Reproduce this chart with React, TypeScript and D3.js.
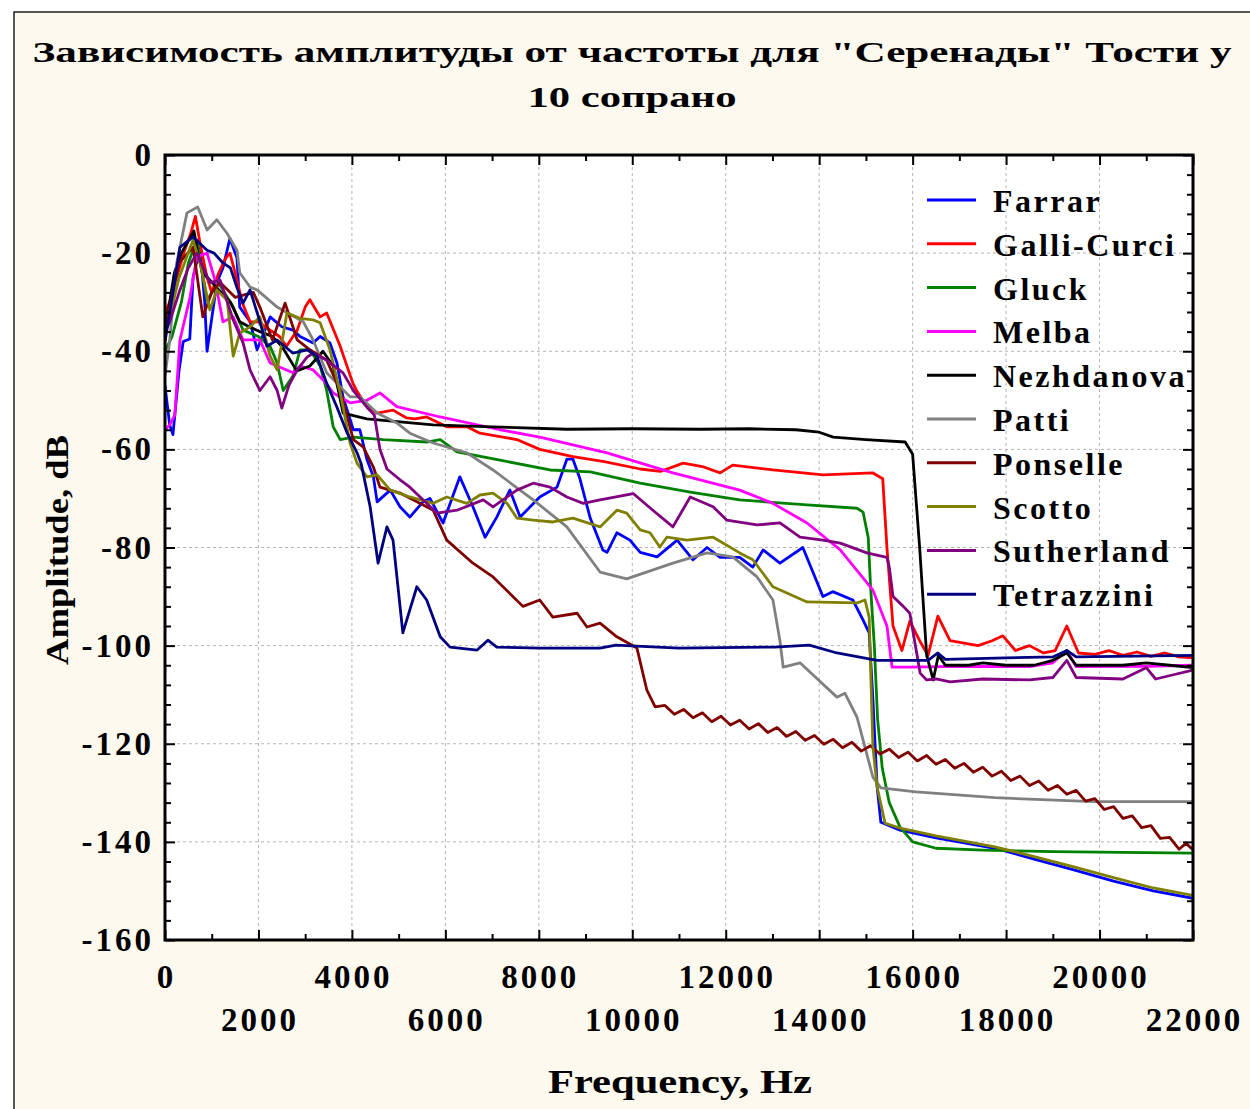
import React, { useRef, useEffect } from 'react';
import * as d3 from 'd3';

type Pt = [number, number];

const W = 1250;
const H = 1109;
const plot = { left: 165, top: 155, right: 1193, bottom: 940 };

const singers = ['Farrar', 'Galli-Curci', 'Gluck', 'Melba', 'Nezhdanova', 'Patti', 'Ponselle', 'Scotto', 'Sutherland', 'Tetrazzini'];
const colors = ['#0000ff', '#ff0000', '#008000', '#ff00ff', '#000000', '#808080', '#800000', '#808000', '#800080', '#000080'];

const xTicksTop = [0, 4000, 8000, 12000, 16000, 20000];
const xTicksBottom = [2000, 6000, 10000, 14000, 18000, 22000];
const yTicks = [0, -20, -40, -60, -80, -100, -120, -140, -160];

const farrar: Pt[] = [[0,-47],[100,-55],[170,-57],[300,-44],[390,-38],[530,-37.5],[600,-25],[750,-19],[850,-30],[900,-40],[960,-36],[1110,-26],[1240,-23],[1390,-17],[1540,-21],[1600,-31],[1820,-34],[1970,-39.7],[2250,-33],[2500,-35],[2740,-35.7],[2890,-37],[3170,-38.3],[3320,-37],[3530,-38.3],[3680,-42.4],[3810,-49.3],[4030,-56],[4170,-56],[4320,-62],[4460,-65.6],[4540,-70.7],[4820,-68.3],[5030,-71.7],[5240,-73.8],[5520,-70.7],[5670,-70],[5950,-75],[6310,-65.6],[6590,-71.7],[6850,-77.9],[7100,-73.8],[7380,-68.3],[7600,-73.8],[8020,-69.7],[8390,-67.7],[8600,-62],[8730,-62],[8880,-66],[9100,-74],[9370,-80.5],[9460,-81],[9670,-77],[9950,-78.5],[10170,-81],[10530,-81.9],[10960,-78.5],[11300,-82.5],[11600,-80],[11880,-82],[12300,-82],[12580,-84],[12800,-80.5],[13160,-83.2],[13650,-80],[14080,-90],[14290,-89],[14720,-90.7],[14940,-94.8],[15070,-97.4],[15150,-111],[15240,-128.8],[15320,-136],[15730,-137.6],[16500,-139.2],[17760,-141.3],[18600,-143.5],[19450,-145.7],[20300,-148],[21150,-150],[22000,-151.5]];

const galliCurci: Pt[] = [[0,-32],[100,-30],[250,-25],[400,-20],[550,-16],[650,-12.5],[750,-18],[900,-25],[1000,-28],[1150,-24],[1300,-21],[1390,-20],[1500,-24],[1650,-30],[1820,-34],[2000,-34],[2250,-35.7],[2450,-37],[2600,-39],[2830,-35.7],[3000,-31],[3100,-29.5],[3320,-33],[3460,-32.2],[3750,-39],[4020,-46.5],[4100,-48],[4300,-51],[4540,-52.6],[4880,-52],[5170,-53.6],[5350,-53.8],[5600,-53.4],[6030,-55.4],[6460,-55.4],[6740,-56.7],[7530,-58],[8020,-60],[8730,-61.5],[9400,-62.5],[10170,-64],[10600,-64.5],[11090,-62.8],[11500,-63.5],[11880,-64.8],[12150,-63.2],[13010,-64.2],[14080,-65.2],[15150,-64.8],[15360,-66],[15450,-80],[15580,-96],[15770,-101],[15940,-95],[16150,-99],[16330,-102],[16540,-94],[16800,-99],[17100,-99.5],[17400,-100],[17700,-99],[17930,-98],[18200,-101],[18500,-100],[18800,-101.5],[19050,-101],[19300,-96],[19550,-101.5],[19900,-101.8],[20200,-101],[20500,-102],[20800,-101.3],[21100,-102.2],[21400,-101.5],[21700,-102.3],[22000,-102.5]];

const gluck: Pt[] = [[0,-40],[150,-37],[350,-30],[500,-22],[680,-17.3],[900,-29.6],[1140,-26],[1460,-31],[1670,-35.7],[2000,-37],[2250,-39],[2400,-42.4],[2530,-48],[2740,-45],[2890,-39.7],[3100,-39.7],[3320,-43],[3460,-48],[3600,-55.4],[3750,-58],[4030,-57.5],[4670,-58],[5600,-58.5],[5890,-58],[6250,-60.5],[7170,-62.2],[8240,-64.2],[9100,-64.6],[10170,-66.9],[11240,-68.7],[12300,-70.3],[13740,-71.3],[14810,-72],[14940,-72.8],[15050,-78],[15100,-88],[15180,-100],[15250,-115],[15350,-125],[15500,-132],[15730,-137],[16000,-140],[16500,-141.3],[17500,-141.7],[19000,-142],[22000,-142.3]];

const melba: Pt[] = [[0,-56],[100,-55],[210,-53],[320,-37.7],[535,-29],[680,-20.8],[900,-20],[1070,-25.5],[1240,-34],[1460,-33],[1670,-37.7],[2030,-37.7],[2250,-42.4],[2740,-44.4],[2890,-43],[3170,-43.8],[3400,-46],[3600,-48.5],[3960,-50.5],[4320,-50],[4600,-48.5],[4960,-51.3],[5890,-53.4],[7170,-56],[8020,-57.5],[9460,-60.7],[10870,-64.8],[12300,-68.3],[13010,-71],[13740,-75],[14450,-80.5],[15150,-88.7],[15450,-96],[15560,-104.4],[16000,-104.4],[17000,-104.2],[18500,-104.3],[19000,-103.5],[19300,-101],[19500,-104.3],[21000,-104.2],[22000,-104]];

const nezhdanova: Pt[] = [[0,-36],[100,-30],[200,-24],[350,-20],[500,-17.5],[620,-15.5],[700,-20],[800,-24],[960,-25.5],[1200,-28],[1400,-30],[1600,-34],[1800,-35],[2030,-36],[2300,-37],[2500,-39],[2820,-44],[3100,-43],[3380,-40],[3600,-43],[3810,-52.6],[4320,-53.8],[5740,-55],[7000,-55.4],[8600,-55.9],[10000,-55.8],[11450,-55.9],[12500,-55.8],[13500,-56],[14000,-56.5],[14300,-57.5],[15000,-58],[15840,-58.5],[16000,-61],[16150,-80],[16300,-102],[16440,-107],[16550,-102],[16700,-104],[17200,-104],[17500,-103.5],[18000,-104],[18600,-104],[19000,-103],[19300,-101.5],[19500,-104],[20500,-104],[21000,-103.5],[21500,-104],[22000,-104.5]];

const patti: Pt[] = [[0,-45],[100,-38],[250,-22],[470,-11.8],[700,-10.6],[900,-15.3],[1110,-13.2],[1330,-16],[1540,-19.4],[1600,-24],[1820,-26.9],[1970,-27.5],[2400,-31],[2960,-34],[3170,-37.7],[3460,-44.4],[3960,-49.3],[4170,-49.3],[4540,-52.6],[4960,-54.6],[5240,-56.7],[5740,-58.7],[6460,-60.7],[7020,-64.2],[7880,-70.3],[8600,-75.8],[9310,-85],[9880,-86.4],[10870,-83.2],[11600,-81.1],[12150,-81.9],[12670,-86],[13010,-90.7],[13160,-99],[13230,-104.4],[13590,-103.5],[13870,-106],[14380,-110.5],[14550,-109.7],[14810,-114.6],[14980,-120.7],[15150,-126.8],[15320,-129],[16070,-129.8],[17760,-131],[19880,-131.8],[22000,-131.8]];

const ponselle: Pt[] = [[0,-34],[100,-31],[300,-22],[600,-18.8],[810,-33],[1000,-28],[1180,-26],[1500,-29],[1890,-28],[2030,-31],[2300,-37.7],[2570,-30.2],[2830,-37.7],[3100,-39.7],[3460,-41.8],[3750,-48],[4030,-58],[4240,-59.5],[4460,-63.6],[4600,-67.7],[5030,-68.9],[5740,-72.4],[6030,-78.5],[6590,-83.2],[7020,-86],[7660,-92],[8020,-90.7],[8300,-94.2],[8820,-93.4],[9030,-96.2],[9310,-95.4],[9670,-98.2],[10100,-100.5],[10310,-109],[10490,-112.5],[10700,-112.2],[10900,-114],[11100,-113],[11300,-114.7],[11500,-113.7],[11700,-115.5],[11900,-114.4],[12100,-116.2],[12300,-115.2],[12500,-117],[12700,-115.9],[12900,-117.7],[13100,-116.7],[13300,-118.5],[13500,-117.5],[13700,-119.3],[13900,-118.3],[14100,-120.1],[14300,-119.1],[14500,-120.8],[14700,-119.7],[14900,-121.5],[15100,-120.4],[15300,-122.1],[15500,-121.1],[15700,-122.8],[15900,-121.7],[16100,-123.5],[16300,-122.4],[16500,-124.2],[16700,-123.2],[16900,-125],[17100,-124],[17300,-125.8],[17500,-124.8],[17700,-126.6],[17900,-125.6],[18100,-127.5],[18300,-126.6],[18500,-128.5],[18700,-127.6],[18900,-129.5],[19100,-128.5],[19300,-130.3],[19500,-129.5],[19700,-131.7],[19900,-131.2],[20100,-133.4],[20300,-132.8],[20500,-135.2],[20700,-134.7],[20900,-137.1],[21100,-136.7],[21300,-139.3],[21500,-139.1],[21700,-141.5],[21850,-140.3],[22000,-141.6]];

const scotto: Pt[] = [[0,-36],[100,-33],[300,-25],[600,-17.3],[750,-22],[960,-31.6],[1110,-27.5],[1330,-29.6],[1460,-41],[1600,-36.3],[1820,-35],[2030,-33],[2250,-41],[2400,-43.8],[2610,-32.2],[2890,-33.3],[3170,-33.6],[3320,-34.2],[3530,-39.7],[3750,-48.5],[3960,-58.7],[4110,-62.8],[4320,-65.6],[4540,-65.2],[4820,-68.3],[5240,-69.7],[5740,-71],[6030,-69.7],[6460,-71],[6740,-69.3],[7020,-68.9],[7320,-71],[7530,-74],[7880,-74.4],[8300,-74.8],[8730,-74],[9310,-75.8],[9670,-72.4],[9880,-73],[10170,-76.4],[10380,-77],[10590,-79.9],[10740,-77.9],[11170,-78.5],[11730,-77.9],[12300,-81.1],[12580,-82.5],[13010,-88],[13740,-91.1],[14810,-91.3],[14980,-90.7],[15070,-94.2],[15110,-107.6],[15150,-120.7],[15240,-128.8],[15410,-136.2],[15730,-137.2],[16500,-138.8],[17760,-141],[18600,-143],[19450,-145.1],[20300,-147.3],[21150,-149.4],[22000,-150.9]];

const sutherland: Pt[] = [[0,-36],[100,-34],[320,-27.5],[500,-23],[680,-20],[960,-26],[1180,-25.5],[1460,-33.6],[1670,-38.3],[1820,-43.8],[2030,-48],[2250,-45.2],[2400,-48],[2500,-51.6],[2650,-47],[2830,-43.8],[3040,-41.2],[3170,-40.4],[3460,-41.8],[3810,-44.4],[4030,-48],[4320,-51.4],[4480,-53],[4600,-60],[4750,-64],[5030,-66.2],[5240,-67.7],[5600,-71],[5820,-73],[6250,-72.4],[6810,-70.3],[7020,-71.7],[7530,-68.3],[7880,-66.9],[8240,-67.7],[8600,-69.7],[8950,-71],[9310,-70.3],[10020,-69],[10440,-72.4],[10870,-75.8],[11240,-69.7],[11730,-71.7],[12020,-74.4],[12670,-75.4],[13160,-75],[13590,-77.9],[14080,-78.5],[14450,-79.1],[15020,-81.1],[15450,-82],[15500,-84],[15580,-90],[15800,-92],[15940,-93.4],[16160,-105.6],[16300,-107],[16500,-106.8],[16800,-107.4],[17500,-106.8],[18500,-107],[19000,-106.5],[19300,-103],[19500,-106.5],[20500,-106.8],[21000,-104.5],[21200,-106.8],[22000,-105]];

const tetrazzini: Pt[] = [[0,-38],[100,-32.2],[320,-18.8],[600,-16.7],[900,-19.4],[1050,-20],[1240,-22],[1400,-23],[1540,-27],[1670,-30.2],[1820,-27.5],[2000,-33],[2180,-39],[2400,-37.7],[2740,-40.4],[3040,-39.7],[3250,-41],[3460,-46.5],[3680,-51.4],[3900,-56.7],[4110,-60.7],[4200,-63],[4390,-71.7],[4560,-83.2],[4750,-75.8],[4880,-78.5],[5090,-97.4],[5390,-88],[5600,-90.7],[5890,-98.2],[6100,-100.3],[6680,-100.9],[6910,-98.9],[7100,-100.3],[8020,-100.5],[9310,-100.5],[9650,-99.9],[11000,-100.5],[13040,-100.3],[13790,-99.9],[14380,-101.5],[15240,-103],[16330,-103],[16540,-101.5],[16700,-102.8],[18000,-102.5],[19000,-102.3],[19300,-101],[19500,-102.3],[22000,-102]];

const seriesData: Pt[][] = [farrar, galliCurci, gluck, melba, nezhdanova, patti, ponselle, scotto, sutherland, tetrazzini];

const FONT = "'Liberation Serif', 'Times New Roman', serif";

const App = () => {
  const ref = useRef<SVGSVGElement>(null);

  useEffect(() => {
    const svg = d3.select(ref.current);
    svg.selectAll('*').remove();

    const x = d3.scaleLinear().domain([0, 22000]).range([plot.left, plot.right]);
    const y = d3.scaleLinear().domain([-160, 0]).range([plot.bottom, plot.top]);

    // outer frame
    svg.append('rect')
      .attr('x', 14).attr('y', 12).attr('width', W).attr('height', H)
      .attr('fill', '#fdf9ee').attr('stroke', '#222').attr('stroke-width', 1.5);

    svg.append('rect')
      .attr('x', plot.left).attr('y', plot.top)
      .attr('width', plot.right - plot.left).attr('height', plot.bottom - plot.top)
      .attr('fill', '#fff');

    // grid
    const grid = svg.append('g').attr('stroke', '#b4b4b4').attr('stroke-width', 1).attr('stroke-dasharray', '3,3');
    [...xTicksTop, ...xTicksBottom].filter(t => t > 0 && t < 22000).forEach(t => {
      grid.append('line').attr('x1', x(t)).attr('x2', x(t)).attr('y1', plot.top).attr('y2', plot.bottom);
    });
    yTicks.filter(t => t < 0 && t > -160).forEach(t => {
      grid.append('line').attr('x1', plot.left).attr('x2', plot.right).attr('y1', y(t)).attr('y2', y(t));
    });

    // series
    svg.append('clipPath').attr('id', 'plotclip').append('rect')
      .attr('x', plot.left).attr('y', plot.top)
      .attr('width', plot.right - plot.left).attr('height', plot.bottom - plot.top);
    const line = d3.line<Pt>().x(d => x(d[0])).y(d => y(d[1]));
    const lines = svg.append('g').attr('clip-path', 'url(#plotclip)');
    seriesData.forEach((s, i) => {
      lines.append('path').attr('d', line(s)).attr('fill', 'none')
        .attr('stroke', colors[i]).attr('stroke-width', 2.8).attr('stroke-linejoin', 'round');
    });

    // ticks
    const xMinor = d3.range(0, 22001, 1000);
    const yMinor = d3.range(-160, 1, 4);
    const tickStyle = (g: any) => {
      g.select('.domain').remove();
      g.selectAll('line').attr('stroke', '#000').attr('stroke-width', 2);
    };
    svg.append('g').attr('transform', `translate(0,${plot.bottom})`)
      .call(d3.axisBottom(x).tickValues(xMinor).tickSize(-6).tickFormat(() => '')).call(tickStyle)
      .selectAll('.tick line').attr('y2', (d: any) => (d % 2000 === 0 ? -10 : -6));
    svg.append('g').attr('transform', `translate(0,${plot.top})`)
      .call(d3.axisTop(x).tickValues(xMinor).tickSize(-6).tickFormat(() => '')).call(tickStyle)
      .selectAll('.tick line').attr('y2', (d: any) => (d % 2000 === 0 ? 10 : 6));
    svg.append('g').attr('transform', `translate(${plot.left},0)`)
      .call(d3.axisLeft(y).tickValues(yMinor).tickSize(-6).tickFormat(() => '')).call(tickStyle)
      .selectAll('.tick line').attr('x2', (d: any) => (d % 20 === 0 ? 10 : 6));
    svg.append('g').attr('transform', `translate(${plot.right},0)`)
      .call(d3.axisRight(y).tickValues(yMinor).tickSize(-6).tickFormat(() => '')).call(tickStyle)
      .selectAll('.tick line').attr('x2', (d: any) => (d % 20 === 0 ? -10 : -6));

    svg.append('rect')
      .attr('x', plot.left).attr('y', plot.top)
      .attr('width', plot.right - plot.left).attr('height', plot.bottom - plot.top)
      .attr('fill', 'none').attr('stroke', '#000').attr('stroke-width', 3);

    // tick labels
    const labels = svg.append('g').attr('font-family', FONT).attr('font-weight', 'bold')
      .attr('font-size', 33).attr('letter-spacing', 3).attr('fill', '#000');
    xTicksTop.forEach(t => {
      labels.append('text').attr('x', x(t) + 1.5).attr('y', 988).attr('text-anchor', 'middle').text(String(t));
    });
    xTicksBottom.forEach(t => {
      labels.append('text').attr('x', x(t) + 1.5).attr('y', 1031).attr('text-anchor', 'middle').text(String(t));
    });
    yTicks.forEach(t => {
      labels.append('text').attr('x', 154).attr('y', y(t) + 11).attr('text-anchor', 'end').text(String(t));
    });

    // titles
    const titles = svg.append('g').attr('font-family', FONT).attr('font-weight', 'bold').attr('fill', '#000');
    titles.append('text').attr('x', 632).attr('y', 62).attr('text-anchor', 'middle')
      .attr('font-size', 30).attr('textLength', 1199).attr('lengthAdjust', 'spacingAndGlyphs')
      .text('Зависимость амплитуды от частоты для "Серенады" Тости у');
    titles.append('text').attr('x', 632).attr('y', 107).attr('text-anchor', 'middle')
      .attr('font-size', 30).attr('textLength', 209).attr('lengthAdjust', 'spacingAndGlyphs')
      .text('10 сопрано');
    titles.append('text').attr('x', 680).attr('y', 1093).attr('text-anchor', 'middle')
      .attr('font-size', 34).attr('textLength', 264).attr('lengthAdjust', 'spacingAndGlyphs')
      .text('Frequency, Hz');
    titles.append('text').attr('transform', 'translate(68,550) rotate(-90)').attr('text-anchor', 'middle')
      .attr('font-size', 32).attr('textLength', 230).attr('lengthAdjust', 'spacingAndGlyphs')
      .text('Amplitude, dB');

    // legend
    const legend = svg.append('g').attr('font-family', FONT).attr('font-weight', 'bold')
      .attr('font-size', 32).attr('letter-spacing', 2.5);
    singers.forEach((name, i) => {
      const ly = 200 + i * 43.8;
      legend.append('line').attr('x1', 927).attr('x2', 976).attr('y1', ly).attr('y2', ly)
        .attr('stroke', colors[i]).attr('stroke-width', 3);
      legend.append('text').attr('x', 993).attr('y', ly + 12).attr('fill', '#000').text(name);
    });
  }, []);

  return (
    <svg ref={ref} width={W} height={H} style={{ position: 'absolute', left: 0, top: 0, background: '#fff' }} />
  );
};

export default App;
